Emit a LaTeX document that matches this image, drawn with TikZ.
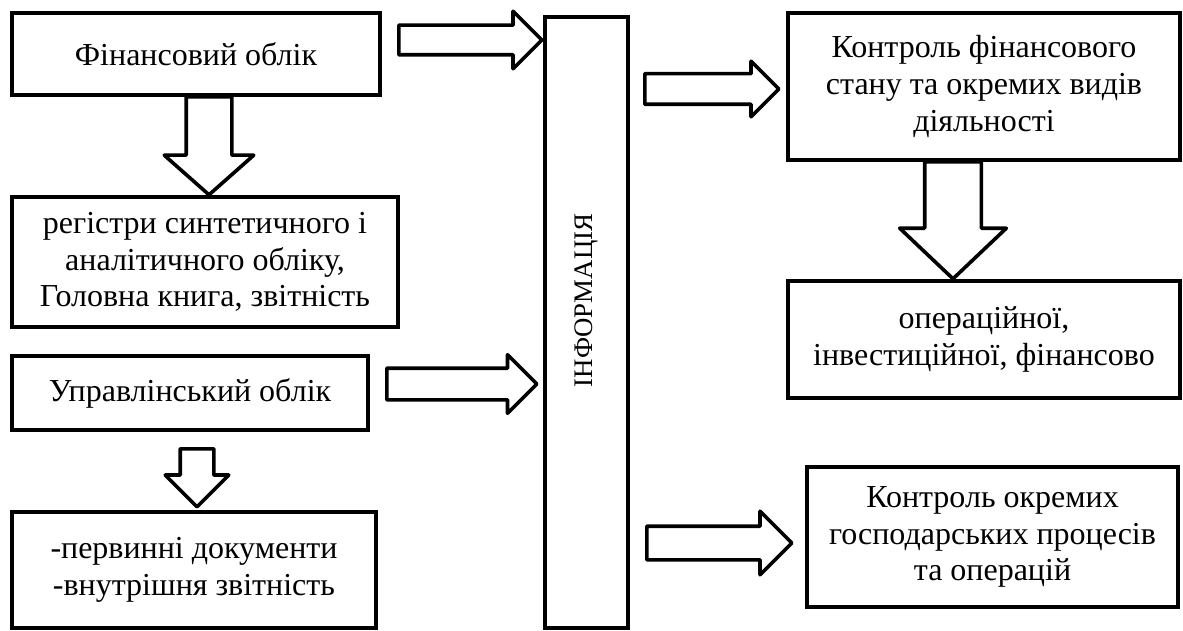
\documentclass[tikz,border=0pt]{standalone}
\usepackage{fontspec}
\setmainfont{Liberation Serif}
\usetikzlibrary{
  shapes.arrows,
  positioning
}

\begin{document}
\begin{tikzpicture}[
  x=0.5pt, y=-0.5pt,
  font=\fontsize{16}{18.4}\selectfont,
  box/.style={
    draw, line width=2pt, fill=white,
    align=center, inner sep=0pt
  },
  barrow/.style={
    single arrow, draw, line width=1.8pt,
    fill=white, line join=round,
    minimum width=0pt, inner xsep=0pt,
    single arrow head indent=0pt,
    anchor=tail
  }
]

\useasboundingbox (0,0) rectangle (1183,631);

% left column
\node[box, minimum width=184pt, minimum height=41pt]
  (fin) at (196,54) {Фінансовий облік};
\node[box, minimum width=193pt, minimum height=65pt]
  (reg) at (205,262)
  {регістри синтетичного і\\аналітичного обліку,\\Головна книга, звітність};
\node[box, minimum width=178pt, minimum height=37pt]
  (upr) at (190,393) {Управлінський облік};
\node[box, minimum width=182pt, minimum height=58pt]
  (perv) at (194,570)
  {-первинні документи\\-внутрішня звітність};

% middle bar
\node[box, minimum width=41.5pt, minimum height=305.5pt]
  (info) at (586.5,322.5) {};
\node[rotate=90, font=\fontsize{13.4}{15}\selectfont]
  (infotxt) at ([yshift=11pt]info.center) {ІНФОРМАЦІЯ};

% right column
\node[box, minimum width=196pt, minimum height=73.5pt]
  (kfin) at (984,86.5)
  {Контроль фінансового\\стану та окремих видів\\діяльності};
\node[box, minimum width=196pt, minimum height=58.5pt]
  (oper) at (984,339.5)
  {операційної,\\інвестиційної, фінансово};
\node[box, minimum width=185.5pt, minimum height=70pt]
  (kproc) at (992.5,537)
  {Контроль окремих\\господарських процесів\\та операцій};

% block arrows
\node[barrow, minimum height=71.5pt, inner ysep=6.5pt,
      single arrow head extend=7pt]
  (ar1) at (397,40) {};
\node[barrow, rotate=-90, minimum height=49pt, inner ysep=10.5pt,
      single arrow head extend=11pt, single arrow tip angle=97]
  (ar2) at (209,95) {};
\node[barrow, minimum height=75pt, inner ysep=7pt,
      single arrow head extend=6.75pt]
  (ar3) at (385,384) {};
\node[barrow, rotate=-90, minimum height=29pt, inner ysep=7.5pt,
      single arrow head extend=7.5pt]
  (ar4) at (197,447) {};
\node[barrow, minimum height=67pt, inner ysep=6.75pt,
      single arrow head extend=6.25pt]
  (ar5) at (643,89) {};
\node[barrow, rotate=-90, minimum height=58.5pt, inner ysep=13.25pt,
      single arrow head extend=12.5pt, single arrow tip angle=93]
  (ar6) at (953,160) {};
\node[barrow, minimum height=72.5pt, inner ysep=7.5pt,
      single arrow head extend=7.5pt]
  (ar7) at (645,543) {};

\end{tikzpicture}
\end{document}
